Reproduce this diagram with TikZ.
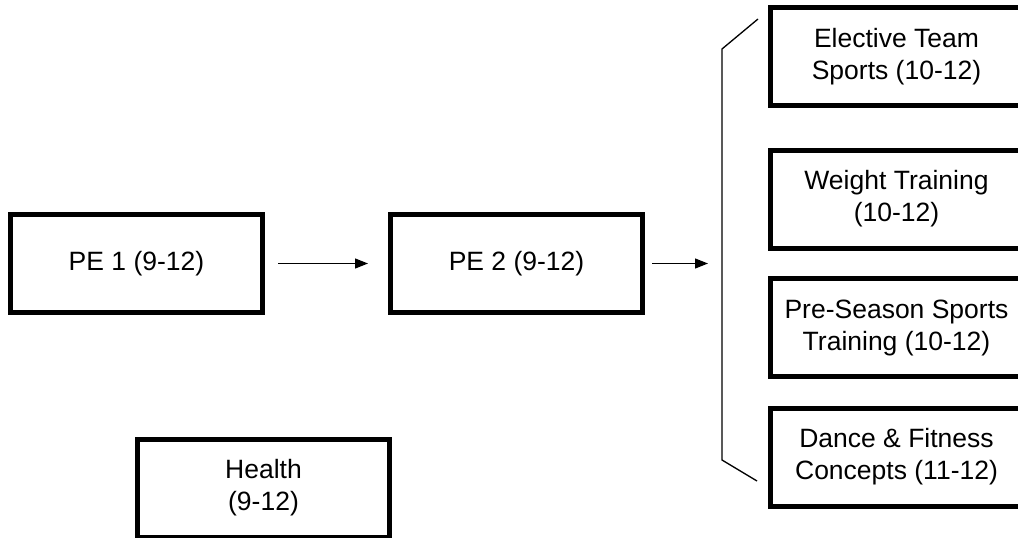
\documentclass[tikz,border=0pt]{standalone}
\usepackage{fontspec}
\setmainfont{Liberation Sans}
\usetikzlibrary{arrows.meta}
\begin{document}
\begin{tikzpicture}[x=1pt,y=-1pt,
  course/.style={draw=black, line width=5pt, minimum width=252pt, minimum height=98pt,
    inner sep=0pt, align=center, font=\fontsize{26.5}{32}\selectfont},
  link/.style={line width=1.3pt, -{Triangle[length=13pt,width=10pt]}},
  brace/.style={line width=1.3pt}]
\useasboundingbox (0,0) rectangle (1018,538);
\clip (0,0) rectangle (1018,538);
\node[course] (pe1) at (136.5,263.5) {PE 1 (9-12)};
\node[course] (pe2) at (516.5,263.5) {PE 2 (9-12)};
\node[course] (health) at (263.5,488) {Health\\(9-12)};
\node[course] (ets) at (896.5,56.5) {Elective Team\\Sports (10-12)};
\node[course] (wt) at (896.5,199) {Weight Training\\(10-12)};
\node[course] (pss) at (896.5,327.5) {Pre-Season Sports\\Training (10-12)};
\node[course] (dfc) at (896.5,457) {Dance \& Fitness\\Concepts (11-12)};
\coordinate (btop) at (758,19);
\coordinate (bul) at (722,49);
\coordinate (bll) at (722,460);
\coordinate (bbot) at (757,481);
\draw[brace] (btop) -- (bul) -- (bll) -- (bbot);
\draw[link, shorten <=13pt, shorten >=20pt] (pe1.east) -- (pe2.west);
\draw[link, shorten <=7pt, shorten >=14pt] (pe2.east) -- (pe2.east -| bul);
\end{tikzpicture}
\end{document}
